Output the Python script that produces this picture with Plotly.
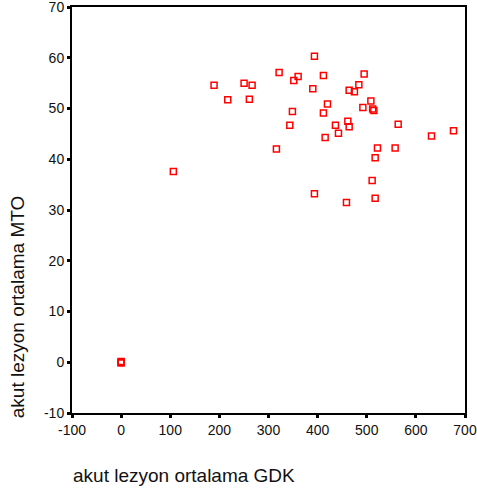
import plotly.graph_objects as go

gdk = [393.5, 321.6, 250.3, 266.6, 261.1, 351.5, 360.3, 411.8, 390.2, 494.7,
       483.9, 464.2, 474.9, 420.0, 508.4, 492.1, 512.0, 514.5, 348.7, 411.8,
       343.4, 436.3, 461.5, 464.2, 442.4, 415.3, 564.0, 676.6, 631.8, 316.1,
       521.8, 557.8, 517.1, 511.0, 393.5, 458.7, 517.1, 189.2, 217.1, 106.3,
       0.0, 0.0, 0.0]
mto = [60.3, 57.1, 55.0, 54.6, 51.8, 55.5, 56.3, 56.5, 53.9, 56.8,
       54.7, 53.6, 53.3, 50.9, 51.5, 50.2, 49.9, 49.6, 49.4, 49.1,
       46.7, 46.7, 47.5, 46.4, 45.1, 44.3, 46.9, 45.6, 44.6, 42.0,
       42.2, 42.2, 40.3, 35.8, 33.2, 31.5, 32.3, 54.6, 51.7, 37.6,
       0.0, 0.15, -0.15]

x_ticks = [-100, 0, 100, 200, 300, 400, 500, 600, 700]
y_ticks = [-10, 0, 10, 20, 30, 40, 50, 60, 70]

FONT = "Liberation Sans, Arial, sans-serif"

fig = go.Figure()
fig.add_trace(go.Scatter(
    x=gdk, y=mto, mode="markers",
    marker=dict(symbol="square-open", size=6, color="#ff0000",
                line=dict(width=1.5, color="#ff0000")),
    showlegend=False, hoverinfo="skip", cliponaxis=False))

axis_common = dict(
    showgrid=False, zeroline=False, showline=True, linecolor="black",
    linewidth=2, mirror=True, ticks="outside", ticklen=3, tickwidth=3,
    tickcolor="black", tickfont=dict(family=FONT, size=14, color="#111"),
    automargin=False, ticklabeloverflow="allow",
)
fig.update_xaxes(range=[-100, 700], tickvals=x_ticks,
                 ticktext=[str(v) for v in x_ticks], **axis_common)
fig.update_yaxes(range=[-10, 70], tickvals=y_ticks,
                 ticktext=[str(v) for v in y_ticks], **axis_common)

fig.add_annotation(text="akut lezyon ortalama GDK", xref="paper", yref="paper",
                   x=-0.003, y=-0.153, xanchor="left", yanchor="middle",
                   showarrow=False, font=dict(family=FONT, size=19, color="#111"))
fig.add_annotation(text="akut lezyon ortalama MTO", xref="paper", yref="paper",
                   x=-0.138, y=0.26, xanchor="center", yanchor="middle",
                   textangle=-90, showarrow=False,
                   font=dict(family=FONT, size=19, color="#111"))

fig.update_layout(
    width=477, height=495,
    margin=dict(l=72, r=12, t=7, b=82),
    paper_bgcolor="white", plot_bgcolor="white",
    font=dict(family=FONT),
)

fig.write_html("out.html")
